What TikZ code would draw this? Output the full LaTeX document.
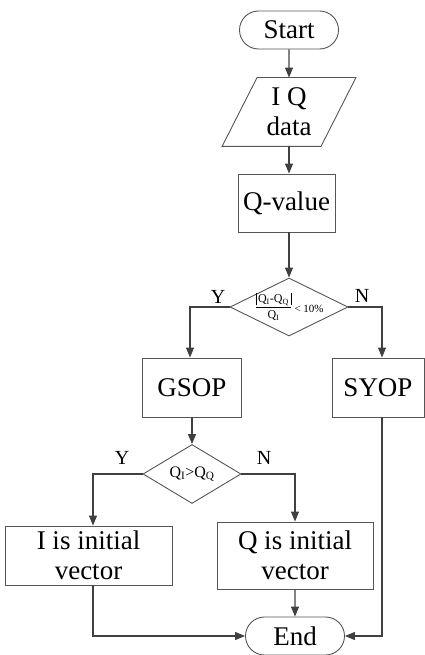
\documentclass[tikz,border=0pt]{standalone}
\usepackage{fontspec}
\usepackage{amsmath}
\setmainfont{Liberation Serif}
\usetikzlibrary{arrows.meta,shapes.misc,shapes.geometric}
\definecolor{linec}{HTML}{404040}
\definecolor{boxc}{HTML}{555555}
\newcommand{\absbar}{\vrule height 9pt depth 3pt width 0.5pt}
\tikzset{
  base/.style={draw=boxc, line width=0.9pt, inner sep=0pt, align=center,
    font=\fontsize{27}{30}\selectfont},
  procbox/.style={base, rectangle},
  termbox/.style={base, rounded rectangle},
  decbox/.style={draw=boxc, line width=0.9pt, diamond, inner sep=0pt},
  conn/.style={draw=linec, line width=1.1pt, -{Triangle[length=10pt,width=8pt]}},
  yn/.style={font=\fontsize{20}{22}\selectfont, inner sep=0pt}
}
\begin{document}
\begin{tikzpicture}[x=1pt,y=-1pt]
\useasboundingbox (0,0) rectangle (425,655);
\node[termbox, minimum width=99pt, minimum height=38pt] (start) at (289,30) {Start};
\node[base, draw=none, minimum width=98pt, minimum height=68pt] (data) at (289,112) {I Q\\data};
\draw[boxc, line width=0.9pt] ([xshift=17.5pt]data.north west) -- ([xshift=17.5pt]data.north east)
  -- ([xshift=-17.5pt]data.south east) -- ([xshift=-17.5pt]data.south west) -- cycle;
\node[procbox, minimum width=97pt, minimum height=58pt] (qv) at (286.5,203) {Q-value};
\node[decbox, minimum width=118pt, minimum height=58pt] (d1) at (289,307) {};
\node[inner sep=0pt] (d1t) at (289,307) {\fontsize{12}{14}\selectfont$\dfrac{\text{\absbar\,Q\textsubscript{I}-Q\textsubscript{Q}\,\absbar}}{\text{Q\textsubscript{I}}}$\,\raisebox{-2pt}{\fontsize{11}{13}\selectfont\textless\ 10\%}};
\node[procbox, minimum width=99pt, minimum height=59pt] (gsop) at (192,387.5) {GSOP};
\node[procbox, minimum width=92pt, minimum height=59pt] (syop) at (378,387.5) {SYOP};
\node[decbox, minimum width=98pt, minimum height=59pt] (d2) at (192,474) {};
\node[inner sep=0pt] (d2t) at (192,474) {\fontsize{16}{18}\selectfont Q\textsubscript{I}>Q\textsubscript{Q}};
\node[procbox, minimum width=167pt, minimum height=59pt] (ibox) at (88.5,555.5) {I is initial\\vector};
\node[procbox, minimum width=156pt, minimum height=67pt] (qbox) at (295,555.5) {Q is initial\\vector};
\node[termbox, minimum width=99pt, minimum height=38pt] (end) at (295,636) {End};
\node[yn] (y1) at (218,297) {Y};
\node[yn] (n1) at (362,296) {N};
\node[yn] (y2) at (122,458) {Y};
\node[yn] (n2) at (264,458) {N};
\draw[conn] (start) -- (data);
\draw[conn] (data.south -| start.south) -- (qv.north -| start.south);
\draw[conn] (qv.south -| d1.north) -- (d1.north);
\draw[conn] (d1.west) -| ([xshift=-2pt]gsop.north);
\draw[conn] (d1.east) -| ([xshift=4pt]syop.north);
\draw[conn] (gsop) -- (d2);
\draw[conn] (d2.west) -| ([xshift=4.5pt]ibox.north);
\draw[conn] (d2.east) -| (qbox.north);
\draw[conn] (qbox) -- (end);
\draw[conn] ([xshift=4.5pt]ibox.south) |- (end.west);
\draw[conn] ([xshift=4pt]syop.south) |- (end.east);
\end{tikzpicture}
\end{document}
